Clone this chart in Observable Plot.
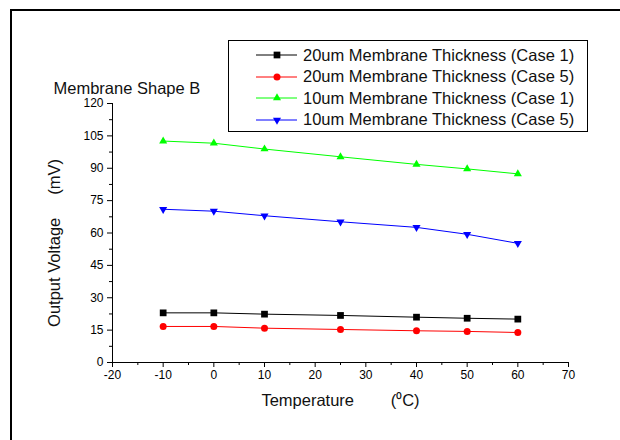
<!DOCTYPE html>
<html>
<head>
<meta charset="utf-8">
<script src="https://cdn.jsdelivr.net/npm/d3@7"></script>
<script src="https://cdn.jsdelivr.net/npm/@observablehq/plot@0.6"></script>
<style>
  html, body { margin: 0; padding: 0; background: #fff; }
  #wrap { position: relative; width: 620px; height: 440px; overflow: hidden; font-family: "Liberation Sans", Arial, sans-serif; }
  #frame { position: absolute; left: 10px; top: 9px; width: 800px; height: 600px; border-left: 2px solid #000; border-top: 2px solid #000; pointer-events: none; }
  #legend { position: absolute; left: 228px; top: 40px; width: 360px; height: 92px; box-sizing: border-box; border: 1px solid #000; background: #fff; }
  .row { position: absolute; left: 0; height: 20px; display: flex; align-items: center; font-size: 16.5px; color: #111; white-space: nowrap; }
  .row svg { display: block; margin-left: 27px; margin-right: 5px; }
  svg.plot { position: absolute; left: 0; top: 0; }
</style>
</head>
<body>
<div id="wrap"><div id="frame"></div></div>
<script>
// ---- data ----
const temps = [-10, 0, 10, 25, 40, 50, 60];
const thick20case1 = [23.0, 23.0, 22.4, 21.8, 21.0, 20.5, 20.1];
const thick20case5 = [16.7, 16.7, 15.9, 15.3, 14.7, 14.4, 13.9];
const thick10case1 = [102.6, 101.6, 98.9, 95.3, 91.8, 89.7, 87.4];
const thick10case5 = [71.0, 70.1, 68.0, 65.2, 62.6, 59.4, 55.2];
const seriesNames = [
  "20um Membrane Thickness (Case 1)",
  "20um Membrane Thickness (Case 5)",
  "10um Membrane Thickness (Case 1)",
  "10um Membrane Thickness (Case 5)"
];
const seriesColors = ["#000000", "#ff0000", "#00ff00", "#0000ff"];
const xTicks = [-20, -10, 0, 10, 20, 30, 40, 50, 60, 70];
const xMinor = [-15, -5, 5, 15, 25, 35, 45, 55, 65];
const yTicks = [0, 15, 30, 45, 60, 75, 90, 105, 120];
const yMinor = [7.5, 22.5, 37.5, 52.5, 67.5, 82.5, 97.5, 112.5];
const titleText = "Membrane Shape B";
const xLabel = "Temperature\u00a0\u00a0\u00a0\u00a0\u00a0\u00a0\u00a0\u00a0(\u2070C)";
const yLabel = "Output Voltage\u00a0\u00a0\u00a0\u00a0\u00a0(mV)";

// inverted triangle symbol
const triangleDown = {
  draw(ctx, size) {
    const y = -Math.sqrt(size / (Math.sqrt(3) * 3));
    ctx.moveTo(0, -y * 2);
    ctx.lineTo(-Math.sqrt(3) * y, y);
    ctx.lineTo(Math.sqrt(3) * y, y);
    ctx.closePath();
  }
};
const seriesSymbols = [d3.symbolSquare, d3.symbolCircle, d3.symbolTriangle, triangleDown];
const seriesR = [3.8, 3.5, 3.0, 3.0];
const seriesValues = [thick20case1, thick20case5, thick10case1, thick10case5];

const rows = [];
seriesValues.forEach((vals, s) => {
  temps.forEach((t, i) => rows.push({ s, t, v: vals[i] }));
});

const fmt = d => String(d);
const marks = [
  Plot.axisX({ ticks: xTicks, tickSize: 5, tickPadding: 3, fontSize: 12, tickFormat: fmt, label: null }),
  Plot.axisX({ ticks: xMinor, tickSize: 3, text: null, label: null }),
  Plot.axisY({ ticks: yTicks, tickSize: 5, tickPadding: 4, fontSize: 12, tickFormat: fmt, label: null }),
  Plot.axisY({ ticks: yMinor, tickSize: 3, text: null, label: null }),
  Plot.ruleX([-20], { stroke: "#000" }),
  Plot.ruleY([0], { stroke: "#000" })
];
seriesValues.forEach((vals, s) => {
  const d = rows.filter(r => r.s === s);
  marks.push(Plot.line(d, { x: "t", y: "v", stroke: seriesColors[s], strokeWidth: 1 }));
});
seriesValues.forEach((vals, s) => {
  const d = rows.filter(r => r.s === s);
  marks.push(Plot.dot(d, { x: "t", y: "v", symbol: () => seriesSymbols[s], r: seriesR[s], fill: seriesColors[s], stroke: "none" }));
});
marks.push(
  Plot.text([titleText], { text: d => d, frameAnchor: "top-left", dx: -59, dy: -21.5, textAnchor: "start", fontSize: 16.5, fill: "#111" }),
  Plot.text([xLabel], { text: d => d, frameAnchor: "bottom", dy: 43, textAnchor: "middle", fontSize: 16.5, fill: "#111" }),
  Plot.text([yLabel], { text: d => d, frameAnchor: "left", dx: -58, dy: 10, rotate: -90, textAnchor: "middle", fontSize: 16.5, fill: "#111" })
);

const chart = Plot.plot({
  width: 620,
  height: 440,
  marginLeft: 112,
  marginRight: 52,
  marginTop: 103,
  marginBottom: 78,
  x: { domain: [-20, 70] },
  y: { domain: [0, 120] },
  style: { fontFamily: "'Liberation Sans', Arial, sans-serif", fontSize: "12px", color: "#000", background: "transparent" },
  marks
});
chart.classList.add("plot");
const wrap = document.getElementById("wrap");
wrap.insertBefore(chart, wrap.firstChild);

// legend
const legend = document.createElement("div");
legend.id = "legend";
const rowTops = [4, 25.5, 47, 68.5];
seriesNames.forEach((name, s) => {
  const row = document.createElement("div");
  row.className = "row";
  row.style.top = rowTops[s] + "px";
  const size = Math.PI * seriesR[s] * seriesR[s];
  const path = d3.symbol(seriesSymbols[s], size)();
  row.innerHTML =
    `<svg width="42" height="20" viewBox="0 0 42 20">
       <line x1="0" x2="41" y1="10" y2="10" stroke="${seriesColors[s]}" stroke-width="1"/>
       <path d="${path}" transform="translate(21,10)" fill="${seriesColors[s]}"/>
     </svg><span>${name}</span>`;
  legend.appendChild(row);
});
wrap.appendChild(legend);
</script>
</body>
</html>
